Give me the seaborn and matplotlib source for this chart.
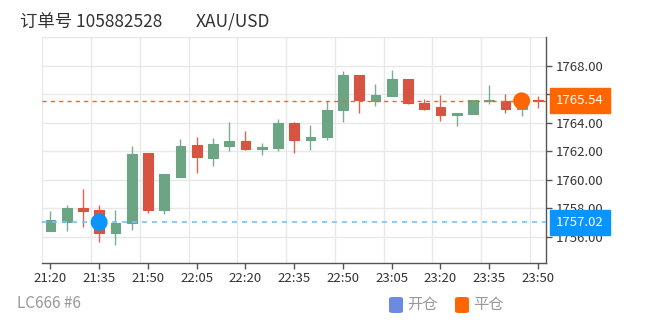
import matplotlib
matplotlib.use("Agg")
import matplotlib.pyplot as plt
from matplotlib.patches import FancyBboxPatch
import numpy as np
import pandas as pd
import seaborn as sns

# ---------------- data ----------------
times = ['21:20', '21:25', '21:30', '21:35', '21:40', '21:45', '21:50', '21:55',
         '22:00', '22:05', '22:10', '22:15', '22:20', '22:25', '22:30', '22:35',
         '22:40', '22:45', '22:50', '22:55', '23:00', '23:05', '23:10', '23:15',
         '23:20', '23:25', '23:30', '23:35', '23:40', '23:45', '23:50']
open_ = [1756.40, 1757.05, 1758.05, 1757.87, 1756.24, 1756.98, 1761.85, 1757.87,
         1760.19, 1762.46, 1761.55, 1762.39, 1762.71, 1762.18, 1762.25, 1764.00,
         1762.81, 1762.97, 1764.90, 1767.37, 1765.53, 1765.90, 1767.07, 1765.41,
         1765.08, 1764.55, 1764.63, 1765.53, 1765.53, 1764.97, 1765.60]
close = [1757.17, 1758.05, 1757.82, 1756.24, 1756.98, 1761.83, 1757.87, 1760.38,
         1762.36, 1761.57, 1762.48, 1762.71, 1762.15, 1762.32, 1764.00, 1762.78,
         1763.02, 1764.90, 1767.35, 1765.57, 1765.95, 1767.09, 1765.39, 1764.97,
         1764.55, 1764.69, 1765.60, 1765.62, 1764.95, 1765.54, 1765.54]
high = [1757.84, 1758.22, 1759.38, 1758.26, 1757.91, 1762.34, 1761.85, 1760.43,
        1762.83, 1762.99, 1762.95, 1764.09, 1763.39, 1762.60, 1764.27, 1764.09,
        1763.86, 1765.55, 1767.65, 1767.37, 1766.72, 1767.72, 1767.07, 1765.67,
        1765.95, 1764.69, 1765.60, 1766.63, 1766.02, 1765.62, 1765.90]
low = [1756.40, 1756.42, 1756.70, 1755.61, 1755.40, 1756.47, 1757.68, 1757.59,
       1760.19, 1760.47, 1760.99, 1761.99, 1762.06, 1761.76, 1762.01, 1761.87,
       1762.06, 1762.81, 1764.04, 1764.69, 1765.15, 1765.90, 1765.29, 1764.90,
       1764.11, 1763.81, 1764.63, 1765.34, 1764.69, 1764.48, 1765.04]

open_time = '21:35'
open_price = 1757.02
close_time = '23:45'
close_price = 1765.54

y_ticks = [1756, 1758, 1760, 1762, 1764, 1766, 1768]
x_tick_labels = ['21:20', '21:35', '21:50', '22:05', '22:20', '22:35', '22:50',
                 '23:05', '23:20', '23:35', '23:50']

title_order = '订单号 105882528'
title_symbol = 'XAU/USD'
footer_text = 'LC666 #6'
legend_labels = ['开仓', '平仓']

# ---------------- style ----------------
sns.set_theme(style="white")
plt.rcParams['font.family'] = ['Noto Sans CJK SC', 'DejaVu Sans']

UP = '#6ba583'
DOWN = '#d75442'
BLUE = '#0a94ff'
ORANGE = '#ff6600'
GRID = '#e8e8e8'
AXIS = '#555555'

df = pd.DataFrame({'time': times, 'open': open_, 'close': close,
                   'high': high, 'low': low})
df['x'] = np.arange(len(df))
df['up'] = df['close'] >= df['open']
df['color'] = np.where(df['up'], UP, DOWN)
df['bottom'] = df[['open', 'close']].min(axis=1)
df['height'] = (df['close'] - df['open']).abs()

fig = plt.figure(figsize=(6.52, 3.25), dpi=100)
W, H = 652, 325
left, right, top, bottom = 42.3, 546, 37.3, 263.3
ax = fig.add_axes([left / W, 1 - bottom / H, (right - left) / W, (bottom - top) / H])

# grid
for gx in np.arange(-0.5, len(df), 3):
    ax.axvline(gx, color=GRID, lw=1, zorder=0)
for gy in y_ticks + [1770]:
    ax.axhline(gy, color=GRID, lw=1, zorder=0)

# wicks and bodies
ax.vlines(df['x'], df['low'], df['high'], colors=df['color'], lw=1.0,
          alpha=0.9, zorder=2)
ax.bar(df['x'], df['height'], bottom=df['bottom'], width=0.6,
       color=df['color'], edgecolor=df['color'], lw=0.8, zorder=3)

# open / close lines
ax.axhline(close_price, color=ORANGE, lw=1, ls=(0, (3, 3)), zorder=4)
ax.axhline(open_price, color='#79c3f5', lw=1.2, ls=(0, (3, 3)), zorder=4)

# markers
mk = pd.DataFrame({'x': [times.index(open_time), times.index(close_time)],
                   'y': [open_price, close_price],
                   'kind': legend_labels})
sns.scatterplot(data=mk, x='x', y='y', hue='kind',
                palette={legend_labels[0]: BLUE, legend_labels[1]: ORANGE},
                s=150, edgecolor='none', legend=False, ax=ax, zorder=5)

ax.set_xlim(-0.5, len(df) - 0.5)
ax.set_ylim(1754.14, 1770)

ax.set_xticks([times.index(t) for t in x_tick_labels])
ax.set_xticklabels(x_tick_labels)
ax.yaxis.tick_right()
ax.set_yticks(y_ticks)
ax.set_yticklabels([f'{v:.2f}' for v in y_ticks])
ax.set_xlabel('')
ax.set_ylabel('')
ax.tick_params(axis='both', which='major', length=4, width=1, color=AXIS,
               labelsize=9.5, labelcolor='#333333', direction='out')
ax.tick_params(axis='x', pad=2)
ax.tick_params(axis='y', pad=3)
ax.tick_params(left=False, right=True, bottom=True, top=False)

for s in ['left', 'top']:
    ax.spines[s].set_visible(False)
for s in ['right', 'bottom']:
    ax.spines[s].set_visible(True)
    ax.spines[s].set_color(AXIS)
    ax.spines[s].set_linewidth(1)

# value boxes on the right axis
for price, col in [(close_price, ORANGE), (open_price, BLUE)]:
    ax.annotate(f'{price:.2f}', xy=(1.0, price),
                xycoords=('axes fraction', 'data'),
                xytext=(7.1, 0), textcoords='offset points',
                ha='left', va='center', color='white', fontsize=9.5,
                bbox=dict(boxstyle='square,pad=0.45', fc=col, ec=col),
                zorder=10, annotation_clip=False)

# title & footer
fig.text(20 / W, 1 - 22 / H, title_order, fontsize=12.5, color='#333333',
         ha='left', va='center')
fig.text(196 / W, 1 - 22 / H, title_symbol, fontsize=12.5, color='#333333',
         ha='left', va='center')
fig.text(17 / W, 1 - 304 / H, footer_text, fontsize=11, color='#999999',
         ha='left', va='center')

# legend
leg_items = [(389, legend_labels[0], '#6b8ae0'), (455, legend_labels[1], ORANGE)]
for x0, lab, col in leg_items:
    p = FancyBboxPatch((x0 / W, 1 - 313 / H), 14 / W, 16 / H,
                       boxstyle='round,pad=0,rounding_size=0.006',
                       transform=fig.transFigure, fc=col, ec='none')
    fig.patches.append(p)
    fig.text((x0 + 18) / W, 1 - 304 / H, lab, fontsize=11, color='#999999',
             ha='left', va='center')

fig.savefig('out.png', dpi=100)
